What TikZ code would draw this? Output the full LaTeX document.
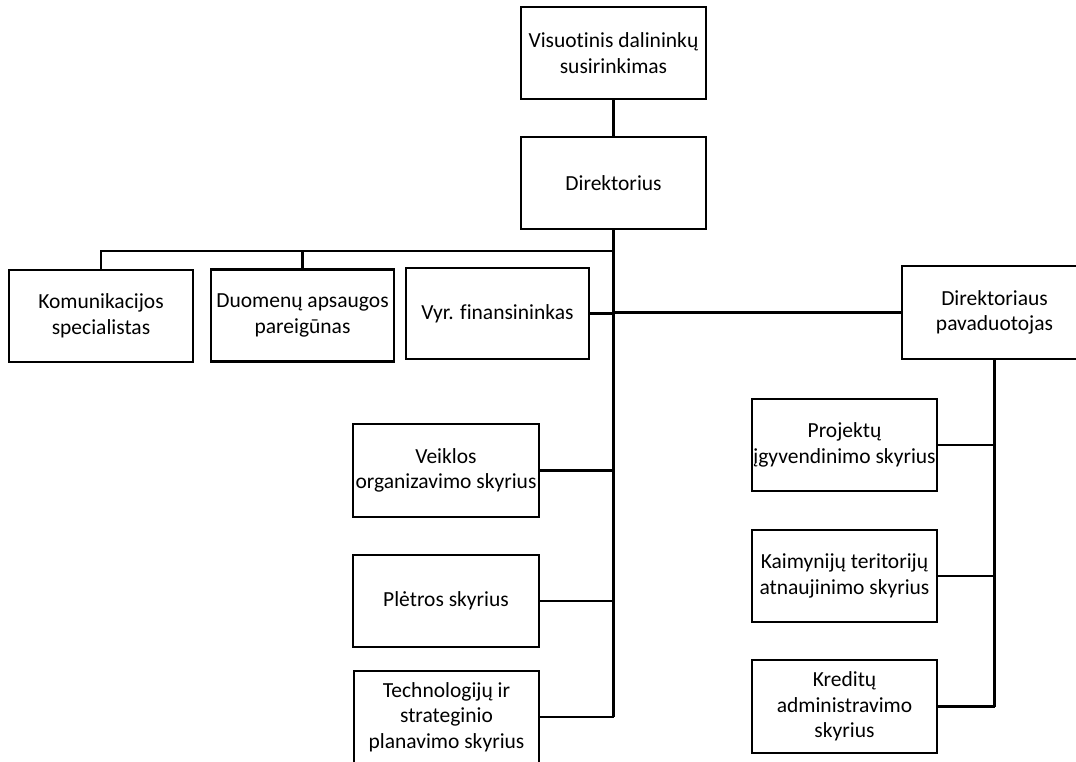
\documentclass[tikz,border=0pt]{standalone}
\usepackage{fontspec}
\setmainfont{Carlito}[Ligatures=NoCommon]
\begin{document}
\begin{tikzpicture}[x=1pt,y=-1pt,
    unit/.style={draw, line width=2.8pt, minimum width=185pt, minimum height=92pt,
      inner sep=0pt, align=center, font=\fontsize{21.5}{25.5}\selectfont},
    link/.style={line width=2.4pt}]
    \useasboundingbox (0,0) rectangle (1076,761);
    % top of the tree
    \node[unit] (sus) at (613.5,53) {Visuotinis dalininkų\\susirinkimas};
    \node[unit] (dir) at (613.5,183) {Direktorius};
    % staff units
    \node[unit, minimum width=184pt] (kom) at (101,316) {Komunikacijos\\specialistas};
    \node[unit, minimum width=183pt] (duo) at (302.5,315.5) {Duomenų apsaugos\\pareigūnas};
    \node[unit, minimum width=183pt, minimum height=91pt] (vyr) at (497.5,313.5) {Vyr. finansininkas};
    \node[unit, minimum height=93pt] (pav) at (994.5,312.5) {Direktoriaus\\pavaduotojas};
    % departments under the director
    \node[unit, minimum width=186pt, minimum height=93pt] (vei) at (446,470.5) {Veiklos\\organizavimo skyrius};
    \node[unit, minimum width=186pt] (ple) at (446,601) {Plėtros skyrius};
    \node[unit] (tec) at (446.5,717) {Technologijų ir\\strateginio\\planavimo skyrius};
    % departments under the deputy
    \node[unit] (pro) at (844.5,445) {Projektų\\įgyvendinimo skyrius};
    \node[unit] (kai) at (844.5,576) {Kaimynijų teritorijų\\atnaujinimo skyrius};
    \node[unit, minimum height=93pt] (kre) at (844.5,706.5) {Kreditų\\administravimo\\skyrius};
    % connectors
    \coordinate (bus) at (613.5,251);
    \draw[link] (sus) -- (dir);
    \draw[link] (dir.south) -- (dir.south |- tec.east);
    \draw[link] (kom.north) |- (bus);
    \draw[link] (duo.north) -- (duo.north |- bus);
    \draw[link] (vyr.east) -- (vyr.east -| dir.south);
    \draw[link] (dir.south |- pav.west) -- (pav.west);
    \foreach \n in {vei,ple,tec}
      \draw[link] (\n.east) -- (\n.east -| dir.south);
    \draw[link] (pav.south) -- (pav.south |- kre.east);
    \foreach \n in {pro,kai,kre}
      \draw[link] (\n.east) -- (\n.east -| pav.south);
\end{tikzpicture}
\end{document}
